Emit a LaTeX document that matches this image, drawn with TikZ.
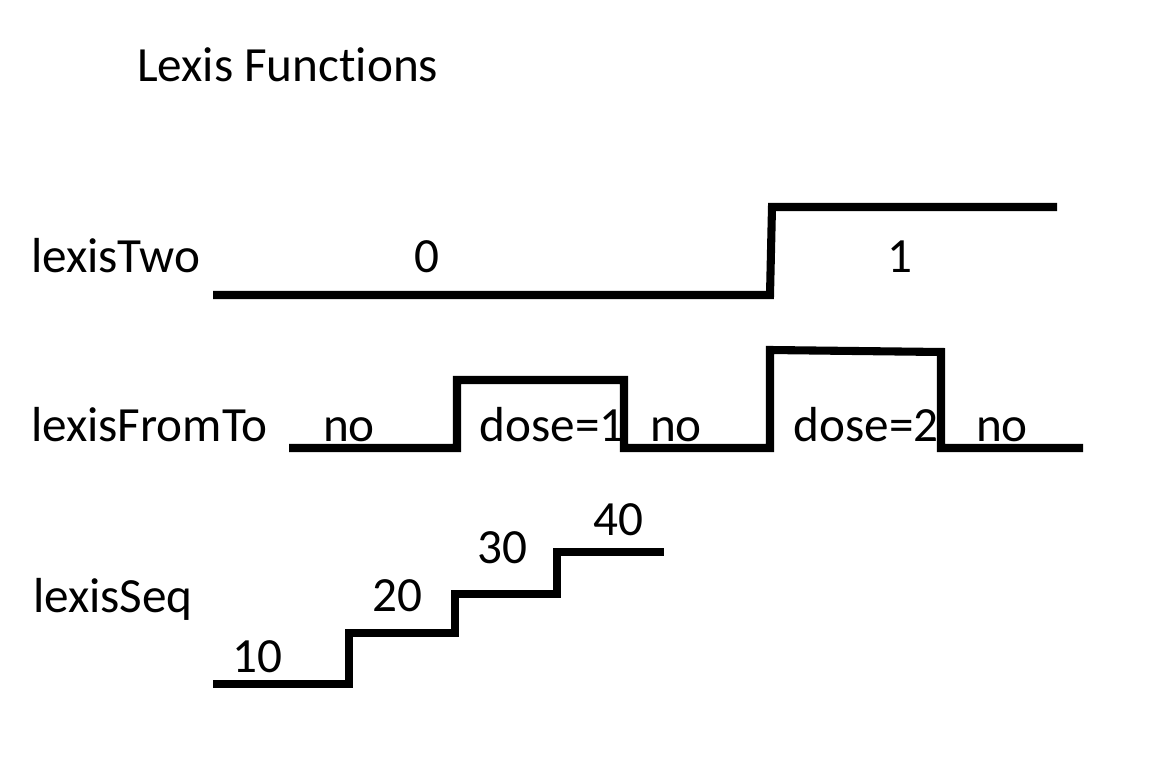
\documentclass[tikz,border=0pt]{standalone}
\usepackage{fontspec}
\setmainfont{Carlito}[Ligatures=NoCommon]
\usepackage{tikz}
\usetikzlibrary{positioning}

\begin{document}
\begin{tikzpicture}[x=0.02cm,y=-0.02cm,line width=4.6pt,line join=miter,
		lbl/.style={font=\fontsize{28}{32}\selectfont,inner sep=0pt,anchor=base},
		rowlbl/.style={lbl,anchor=base west}]
		\useasboundingbox (0,0) rectangle (1160,757);
		\node[rowlbl] (title) at (133,82) {Lexis Functions};
		\node[rowlbl] (two) at (27,272) {lexisTwo};
		\node[rowlbl] (fromto) at (27,441) {lexisFromTo};
		\node[rowlbl] (seq) at (29,612) {lexisSeq};

		% lexisTwo
		\coordinate (t0) at (213,295);
		\coordinate (t1) at (770,295);
		\coordinate (t2) at (772,207);
		\coordinate (t3) at (1057,207);
		\draw (t0) -- (t1) -- (t2) -- (t3);
		\node[lbl] (zero) at (427,272) {0};
		\node[lbl] (one) at (900,272) {1};

		% lexisFromTo
		\coordinate (f0) at (289,448);
		\coordinate (f1) at (457,448);
		\coordinate (f2) at (457,380);
		\coordinate (f3) at (624,380);
		\coordinate (f4) at (624,448);
		\coordinate (f5) at (770,448);
		\coordinate (f6) at (770,350);
		\coordinate (f7) at (941,352);
		\coordinate (f8) at (941,448);
		\coordinate (f9) at (1083,448);
		\draw (f0) -- (f1) -- (f2) -- (f3) -- (f4) -- (f5) -- (f6) -- (f7) -- (f8) -- (f9);
		\node[lbl] (no1) at (349,441) {no};
		\node[lbl] (dose1) at (552,441) {dose=1};
		\node[lbl] (no2) at (676,441) {no};
		\node[lbl] (dose2) at (866,441) {dose=2};
		\node[lbl] (no3) at (1002,441) {no};

		% lexisSeq
		\coordinate (s0) at (213,684);
		\coordinate (s1) at (349,684);
		\coordinate (s2) at (349,633);
		\coordinate (s3) at (455,633);
		\coordinate (s4) at (455,594);
		\coordinate (s5) at (557,594);
		\coordinate (s6) at (557,552);
		\coordinate (s7) at (664,552);
		\draw (s0) -- (s1) -- (s2) -- (s3) -- (s4) -- (s5) -- (s6) -- (s7);
		\node[lbl] (ten) at (257,672) {10};
		\node[lbl] (twenty) at (397,611) {20};
		\node[lbl] (thirty) at (502,563) {30};
		\node[lbl] (forty) at (618,535) {40};
	\end{tikzpicture}
\end{document}
